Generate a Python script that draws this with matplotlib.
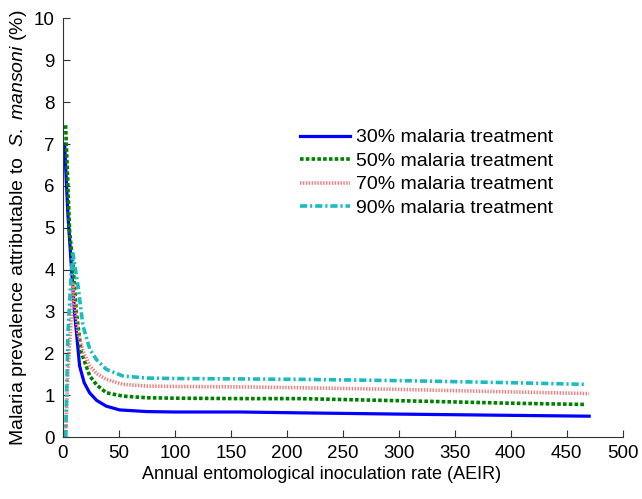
import matplotlib
matplotlib.use('Agg')
import matplotlib.pyplot as plt

# values
aeir_30 = [1.5, 4.5, 7.5, 10.4, 14.9, 19.0, 23.8, 30.0, 38.7, 50.6, 75.0, 100.0, 158.0, 211.0, 300.0, 400.0, 470.0]
prev_30 = [7.0, 5.3, 4.1, 2.98, 1.70, 1.30, 1.06, 0.88, 0.74, 0.65, 0.61, 0.60, 0.60, 0.58, 0.55, 0.52, 0.50]

aeir_50 = [2.4, 6.0, 9.0, 12.0, 16.4, 24.0, 30.0, 38.7, 53.5, 75.0, 100.0, 158.0, 211.0, 300.0, 400.0, 467.0]
prev_50 = [7.45, 4.9, 4.1, 2.98, 2.02, 1.46, 1.25, 1.06, 0.98, 0.94, 0.93, 0.92, 0.92, 0.87, 0.81, 0.78]

aeir_70 = [2.5, 4.5, 7.5, 9.0, 13.4, 18.0, 24.0, 30.0, 38.7, 53.6, 75.0, 100.0, 158.0, 211.0, 300.0, 400.0, 470.0]
prev_70 = [0.0, 1.54, 2.9, 3.66, 2.5, 2.05, 1.70, 1.52, 1.38, 1.26, 1.22, 1.21, 1.20, 1.18, 1.14, 1.08, 1.04]

aeir_90 = [2.5, 4.5, 7.5, 9.0, 13.4, 17.9, 24.0, 30.0, 38.7, 53.6, 75.0, 100.0, 158.0, 211.0, 300.0, 400.0, 467.0]
prev_90 = [0.0, 2.5, 3.94, 4.38, 3.62, 2.66, 2.10, 1.85, 1.62, 1.46, 1.41, 1.40, 1.39, 1.38, 1.35, 1.30, 1.26]

labels = ["30% malaria treatment", "50% malaria treatment",
          "70% malaria treatment", "90% malaria treatment"]

plt.rcParams.update({
    "font.family": "Liberation Sans",
    "font.size": 13.5,
    "mathtext.fontset": "custom",
    "mathtext.rm": "Liberation Sans",
    "mathtext.it": "Liberation Sans:italic",
})

fig = plt.figure(figsize=(6.42, 4.99), dpi=100)
ax = fig.add_axes([0.098, 0.124, 0.872, 0.839])

ax.plot(aeir_30, prev_30, color="#0000ff", linestyle="-", linewidth=2.3, label=labels[0])
ax.plot(aeir_50, prev_50, color="#008000", linestyle=(0, (1.0, 0.6)), linewidth=2.6, label=labels[1])
ax.plot(aeir_70, prev_70, color="#f08080", linestyle=(0, (0.4, 0.4)), linewidth=2.6, label=labels[2])
ax.plot(aeir_90, prev_90, color="#1cbcbc", linestyle=(0, (2.0, 0.8, 0.6, 0.8)), linewidth=2.6, label=labels[3])

ax.set_xlim(0, 500)
ax.set_ylim(0, 10)
ax.set_xticks(range(0, 501, 50))
ax.set_yticks(range(0, 11))

ax.spines["top"].set_visible(False)
ax.spines["right"].set_visible(False)
for s in ("left", "bottom"):
    ax.spines[s].set_linewidth(0.8)
    ax.spines[s].set_color("#333333")
ax.tick_params(direction="in", length=5, width=0.8, color="#333333", pad=6,
               labelsize=13.5)

ax.set_xlabel("Annual entomological inoculation rate (AEIR)", fontsize=13)
ax.xaxis.set_label_coords(0.462, -0.07)
ax.set_ylabel(r"Malaria prevalence attributable to  $\mathit{S.\ mansoni}$ (%)", fontsize=14)
ax.yaxis.set_label_coords(-0.061, 0.5)

ax.legend(loc="upper left", bbox_to_anchor=(0.409, 0.755), frameon=False, fontsize=14,
          handlelength=2.6, handletextpad=0.3, labelspacing=0.3, borderaxespad=0)

fig.savefig("out.png", dpi=100, facecolor="white")
